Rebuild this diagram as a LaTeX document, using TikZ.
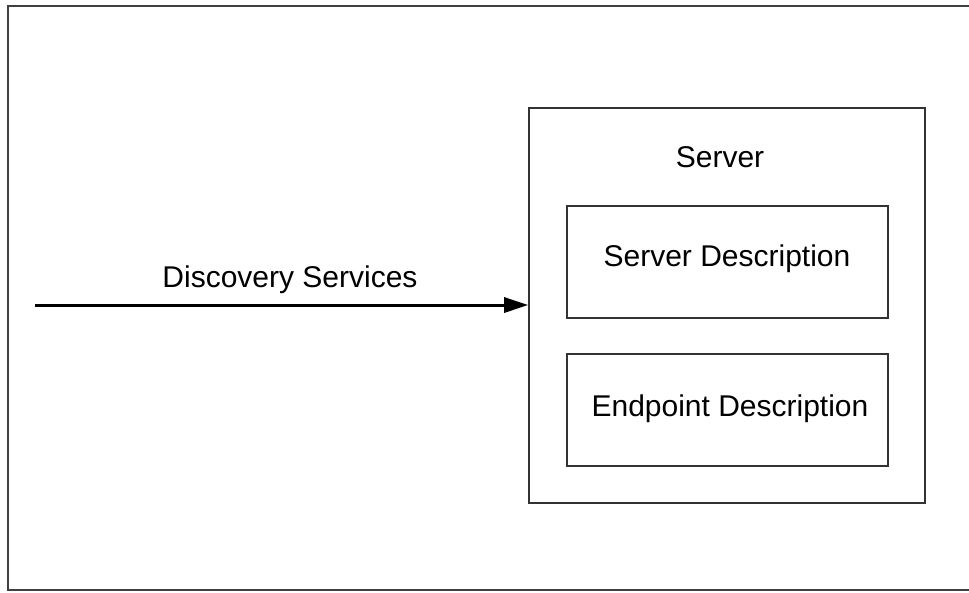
\documentclass[tikz,border=0pt]{standalone}
\usepackage{fontspec}
\setmainfont{Liberation Sans}
\usetikzlibrary{arrows.meta}
\begin{document}
\begin{tikzpicture}[x=1pt,y=-1pt,
  frame/.style={draw=black!75,line width=2pt},
  box/.style={draw=black!80,line width=1.6pt,inner sep=0pt},
  lbl/.style={font=\fontsize{30}{34}\selectfont,inner sep=0pt}]
\useasboundingbox (0,0) rectangle (969,592);
\draw[frame] (975,5.5) -- (7.5,5.5) -- (7.5,590) -- (975,590);
\node[box,minimum width=396pt,minimum height=395pt] (server) at (727,305.5) {};
\node[lbl] (servertitle) at (720,157) {Server};
\node[box,minimum width=321pt,minimum height=112pt] (sdesc) at (727.5,262) {};
\node[lbl] at (727,259) {Server Description};
\node[box,minimum width=321pt,minimum height=112pt] (edesc) at (727.5,410) {};
\node[lbl] at (730,409) {Endpoint Description};
\coordinate (start) at (35,305);
\draw[line width=3pt,-{Triangle[length=24pt,width=15pt]}] (start) -- (start -| server.west);
\node[lbl] (ds) at (290,280) {Discovery Services};
\end{tikzpicture}
\end{document}
